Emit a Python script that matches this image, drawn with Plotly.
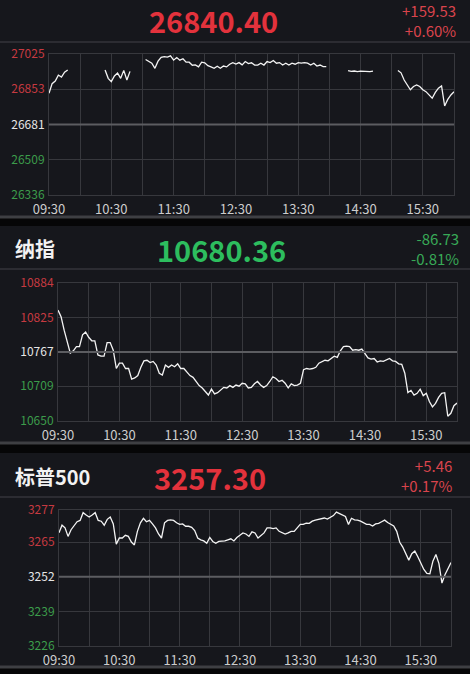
import pandas as pd
import plotly.graph_objects as go

W, H = 470, 674

# 3-minute samples through the session, 09:30 .. 16:00
times = pd.date_range("2020-07-14 09:30", "2020-07-14 16:00", freq="3min")
grid_times = pd.date_range("2020-07-14 09:30", "2020-07-14 16:00", freq="30min")
time_labels = ["09:30", "", "10:30", "", "11:30", "", "12:30", "",
               "13:30", "", "14:30", "", "15:30", ""]

# Dow (top panel has gaps in the feed)
dow = [26833, 26880, 26893, 26922, 26912, 26936, 26947,
       None, None, None, None, None, None, None, None, None, None, None,
       26947, 26906, 26890, 26918, 26932, 26906, 26945, 26898, 26940,
       None, None, None, None,
       26998, 26990, 26980, 26955, 26990, 27009, 27012, 27010, 27016, 26995,
       27008, 26995, 27002, 26985, 26985, 26970, 26972, 26962, 26985, 26982,
       26968, 26962, 26955, 26965, 26955, 26966, 26962, 26975, 26983, 26976,
       26983, 26972, 26988, 26978, 26982,
       26971, 26971, 26980, 26971, 26988, 26983, 26993, 26980, 26983, 26971,
       26980, 26971, 26980, 26975, 26983, 26980, 26983, 26980, 26971, 26980,
       26966, 26971, 26963, 26963,
       None, None, None, None, None, None,
       26944, 26940, 26942, 26939, 26941, 26940, 26942, 26939, 26941,
       None, None, None, None, None, None, None,
       26944, 26933, 26898, 26874, 26850, 26866, 26874, 26866, 26850, 26841,
       26825, 26809, 26837, 26858, 26869, 26771, 26803, 26825, 26840.40]

nasdaq = [10838, 10827, 10804, 10782, 10765, 10769, 10776, 10776, 10796, 10801,
          10792, 10786, 10786, 10762, 10760, 10760, 10783, 10783, 10770, 10739,
          10748, 10748, 10739, 10739, 10721, 10723, 10727, 10741, 10752, 10753,
          10749, 10751, 10745, 10731, 10728, 10745, 10741, 10745, 10742, 10747,
          10739, 10739, 10732, 10727, 10724, 10717, 10710, 10706, 10700, 10694,
          10704, 10696, 10698, 10703, 10707, 10706, 10710, 10707, 10711, 10709,
          10714, 10713, 10706, 10707, 10713, 10717, 10711, 10707, 10710, 10717,
          10725, 10722, 10717, 10719, 10714, 10706, 10713, 10710, 10711, 10714,
          10737, 10739, 10738, 10739, 10741, 10748, 10751, 10753, 10752, 10756,
          10760, 10758, 10769, 10776, 10777, 10776, 10770, 10771, 10770, 10772,
          10765, 10757, 10755, 10756, 10750, 10752, 10751, 10753, 10756, 10752,
          10751, 10747, 10746, 10731, 10698, 10702, 10694, 10697, 10704, 10693,
          10697, 10683, 10674, 10680, 10690, 10697, 10698, 10658, 10663, 10676,
          10680.36]

spx = [3268.5, 3271.3, 3270.3, 3267.1, 3269.6, 3271.3, 3272.6, 3273.1, 3276.0, 3275.1,
       3274.4, 3275.1, 3276.0, 3273.1, 3272.8, 3271.3, 3273.5, 3274.4, 3271.8, 3264.2,
       3266.5, 3266.5, 3267.5, 3267.1, 3265.0, 3263.9, 3269.0, 3272.2, 3273.9, 3272.6,
       3273.1, 3271.8, 3270.3, 3268.0, 3266.5, 3272.2, 3273.1, 3273.3, 3273.1, 3272.2,
       3271.6, 3271.8, 3270.9, 3270.9, 3270.5, 3269.3, 3266.5, 3265.8, 3265.4, 3264.5,
       3266.7, 3265.2, 3264.5, 3265.2, 3265.2, 3265.4, 3265.8, 3266.2, 3265.4, 3266.7,
       3267.5, 3268.4, 3268.0, 3267.1, 3268.8, 3268.4, 3266.5, 3267.5, 3268.4, 3270.3,
       3270.3, 3270.0, 3270.3, 3269.0, 3268.5, 3268.0, 3268.4, 3269.0, 3269.0, 3270.3,
       3271.6, 3271.6, 3272.1, 3272.0, 3272.8, 3273.2, 3273.5, 3273.7, 3274.0, 3273.6,
       3274.1, 3274.9, 3276.2, 3275.6, 3274.9, 3274.6, 3271.6, 3273.9, 3273.3, 3273.2,
       3272.8, 3272.2, 3271.6, 3271.6, 3271.0, 3271.8, 3272.0, 3272.6, 3273.2, 3272.3,
       3271.8, 3271.0, 3269.0, 3264.9, 3263.1, 3260.3, 3258.2, 3260.6, 3261.6, 3259.5,
       3257.3, 3254.7, 3253.2, 3253.1, 3257.8, 3260.3, 3256.9, 3249.6, 3252.7, 3255.2,
       3257.30]

dow_ticks = [26336, 26509, 26681, 26853, 27025]
nasdaq_ticks = [10650, 10709, 10767, 10825, 10884]
spx_ticks = [3226, 3239, 3252, 3265, 3277]

names = ["", "纳指", "标普500"]
last_prices = ["26840.40", "10680.36", "3257.30"]
changes = ["+159.53", "-86.73", "+5.46"]
pct_changes = ["+0.60%", "-0.81%", "+0.17%"]

RED = "#e3323c"
RED_SOFT = "#d9444c"
GREEN = "#2dbd5e"
GREEN_SOFT = "#38a957"
BG = "#16171c"
GAP = "#060607"
GRID = "#37383d"
MID = "#5c5d61"
FONT = "Noto Sans CJK SC"

# pixel layout of each panel (top, bottom, header line, plot box, text spots)
geo = [
    dict(top=0, bottom=217, hline=42, x0=49, x1=454, y0=54, y1=195,
         name_y=20, price_x=213, price_y=20, chg_x=458, chg_y=20),
    dict(top=226, bottom=443, hline=269, x0=58, x1=457, y0=283, y1=421,
         name_y=249, price_x=221, price_y=249, chg_x=461, chg_y=248),
    dict(top=453, bottom=667, hline=497, x0=59, x1=451, y0=510, y1=646,
         name_y=477, price_x=210, price_y=477, chg_x=454, chg_y=475),
]

series = [dow, nasdaq, spx]
ticks = [dow_ticks, nasdaq_ticks, spx_ticks]


def px(v):
    return v / W


def py(v):
    return 1 - v / H


fig = go.Figure()
shapes = []
annotations = []

for i, g in enumerate(geo):
    n = "" if i == 0 else str(i + 1)
    tv = ticks[i]
    up = changes[i].startswith("+")

    fig.add_trace(go.Scatter(
        x=times, y=series[i], mode="lines",
        line=dict(color="#f4f4f4", width=1.3),
        connectgaps=False, hoverinfo="skip",
        xaxis="x" + n, yaxis="y" + n, showlegend=False))

    tick_text = []
    for k, t in enumerate(tv):
        c = "#3c9c4b" if k < 2 else ("#e6e6e6" if k == 2 else "#c63a41")
        tick_text.append(f"<span style='color:{c}'>{t}</span>")

    fig.update_layout({
        "xaxis" + n: dict(
            domain=[px(g["x0"]), px(g["x1"])], anchor="y" + n,
            range=[grid_times[0], grid_times[-1]],
            tickvals=grid_times, ticktext=time_labels,
            showgrid=True, gridcolor=GRID, gridwidth=1,
            showline=True, mirror=True, linecolor=GRID, linewidth=1,
            zeroline=False, ticks="", ticklabelstandoff=2, automargin=False,
            tickfont=dict(family=FONT, size=13, color="#cdcdcd")),
        "yaxis" + n: dict(
            domain=[py(g["y1"]), py(g["y0"])], anchor="x" + n,
            range=[tv[0], tv[-1]], tickvals=tv, ticktext=tick_text,
            showgrid=True, gridcolor=GRID, gridwidth=1,
            showline=True, mirror=True, linecolor=GRID, linewidth=1,
            zeroline=False, ticks="", ticklabelstandoff=1, automargin=False,
            tickfont=dict(family=FONT, size=12)),
    })

    # panel background, header rule, bottom band
    shapes.append(dict(type="rect", xref="paper", yref="paper", layer="below",
                       x0=0, x1=1, y0=py(g["bottom"]), y1=py(g["top"]),
                       fillcolor=BG, line=dict(width=0)))
    shapes.append(dict(type="line", xref="paper", yref="paper",
                       x0=0, x1=1, y0=py(g["hline"]), y1=py(g["hline"]),
                       line=dict(color="#34353a", width=1.5)))
    shapes.append(dict(type="line", xref="paper", yref="paper",
                       x0=0, x1=1, y0=py(g["bottom"]), y1=py(g["bottom"]),
                       line=dict(color="#3e3f43", width=3)))
    # previous close line
    shapes.append(dict(type="line", xref="x" + n + " domain", yref="y" + n,
                       x0=0, x1=1, y0=tv[2], y1=tv[2],
                       line=dict(color=MID, width=2)))

    if names[i]:
        annotations.append(dict(
            text=names[i], xref="paper", yref="paper",
            x=px(13), y=py(g["name_y"]), xanchor="left", yanchor="middle",
            showarrow=False,
            font=dict(family=FONT, size=20, color="#f2f2f2", weight="bold")))
    annotations.append(dict(
        text=last_prices[i], xref="paper", yref="paper",
        x=px(g["price_x"]), y=py(g["price_y"]), xanchor="center", yanchor="middle",
        showarrow=False,
        font=dict(family=FONT, size=29, color=RED if up else GREEN, weight="bold")))
    # change and percent stacked in one block
    annotations.append(dict(
        text=changes[i] + "<br>" + pct_changes[i], xref="paper", yref="paper",
        x=px(g["chg_x"]), y=py(g["chg_y"]), xanchor="right", yanchor="middle",
        align="right", showarrow=False,
        font=dict(family=FONT, size=15, color=RED_SOFT if up else GREEN_SOFT)))

fig.update_layout(
    width=W, height=H,
    margin=dict(l=0, r=0, t=0, b=0, pad=0),
    paper_bgcolor=GAP, plot_bgcolor=BG,
    shapes=shapes, annotations=annotations,
    showlegend=False,
)

# drop the default page margin so the figure fills the window
fig.write_html("out.html", config={"displayModeBar": False},
               post_script="document.body.style.margin='0';"
                           "document.body.style.overflow='hidden';")
